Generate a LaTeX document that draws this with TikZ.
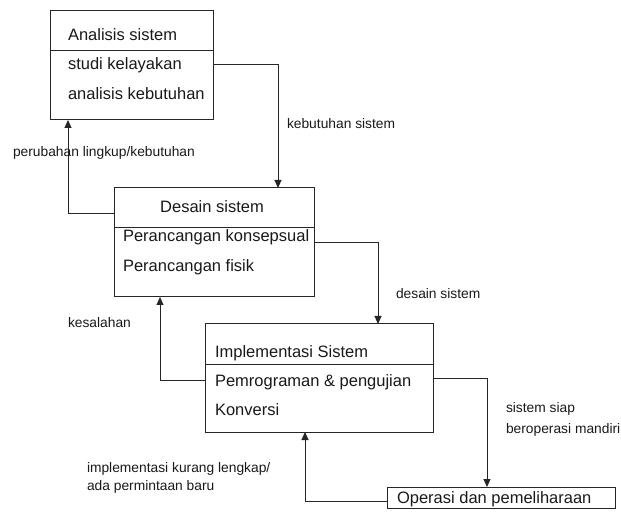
\documentclass[tikz,border=0pt]{standalone}
\usepackage{fontspec}
\setmainfont{Liberation Sans}
\usetikzlibrary{arrows.meta}
\begin{document}
\begin{tikzpicture}[x=1pt,y=-1pt,
  box/.style={draw=black!85, line width=1pt, rectangle, inner sep=0pt, outer sep=0pt},
  txt/.style={inner sep=0pt, outer sep=0pt, anchor=base west, font=\fontsize{16.5}{20}\selectfont, text=black!90},
  lbl/.style={inner sep=0pt, outer sep=0pt, anchor=base west, font=\fontsize{13.8}{16}\selectfont, text=black!90},
  arr/.style={draw=black!85, line width=1pt, -{Triangle[length=8pt,width=7pt]}},
  divider/.style={draw=black!85, line width=1pt}]
\useasboundingbox (0,0) rectangle (621,518);
% boxes
\node[box, minimum width=163pt, minimum height=109pt] (b1) at (131.5,65.5) {};
\node[box, minimum width=200pt, minimum height=109pt] (b2) at (214,242.5) {};
\node[box, minimum width=228pt, minimum height=108pt] (b3) at (319,378) {};
\node[box, minimum width=228pt, minimum height=21pt] (b4) at (501,497.5) {};
% dividers
\draw[divider] (50,51) -- (213,51);
\draw[divider] (114,228) -- (314,228);
\draw[divider] (205,365) -- (433,365);
% box texts
\node[txt] (t11) at (68,41) {Analisis sistem};
\node[txt] (t12) at (68,70) {studi kelayakan};
\node[txt] (t13) at (68,100) {analisis kebutuhan};
\node[txt, anchor=base] (t21) at (212,213) {Desain sistem};
\node[txt] (t22) at (123,242) {Perancangan konsepsual};
\node[txt] (t23) at (123,272) {Perancangan fisik};
\node[txt] (t31) at (215,358) {Implementasi Sistem};
\node[txt] (t32) at (215,386) {Pemrograman \& pengujian};
\node[txt] (t33) at (215,415) {Konversi};
\node[txt] (t41) at (397,503) {Operasi dan pemeliharaan};
% connectors
\coordinate (c1) at (278,65);
\draw[arr] (b1.east |- c1) -| (b2.north -| c1);
\coordinate (c2) at (68,214);
\draw[arr] (b2.west |- c2) -| (b1.south -| c2);
\coordinate (c3) at (378,243);
\draw[arr] (b2.east |- c3) -| (b3.north -| c3);
\coordinate (c4) at (160,381);
\draw[arr] (b3.west |- c4) -| (b2.south -| c4);
\coordinate (c5) at (487,379);
\draw[arr] (b3.east |- c5) -| (b4.north -| c5);
\coordinate (c6) at (305,501);
\draw[arr] (b4.west |- c6) -| (b3.south -| c6);
% labels
\node[lbl] (l1) at (287,129) {kebutuhan sistem};
\node[lbl] (l2) at (13,157) {perubahan lingkup/kebutuhan};
\node[lbl] (l3) at (396,299) {desain sistem};
\node[lbl] (l4) at (68,328) {kesalahan};
\node[lbl] (l5) at (506,413) {sistem siap};
\node[lbl] (l6) at (506,433) {beroperasi mandiri};
\node[lbl] (l7) at (87,472) {implementasi kurang lengkap/};
\node[lbl] (l8) at (87,490) {ada permintaan baru};
\end{tikzpicture}
\end{document}
